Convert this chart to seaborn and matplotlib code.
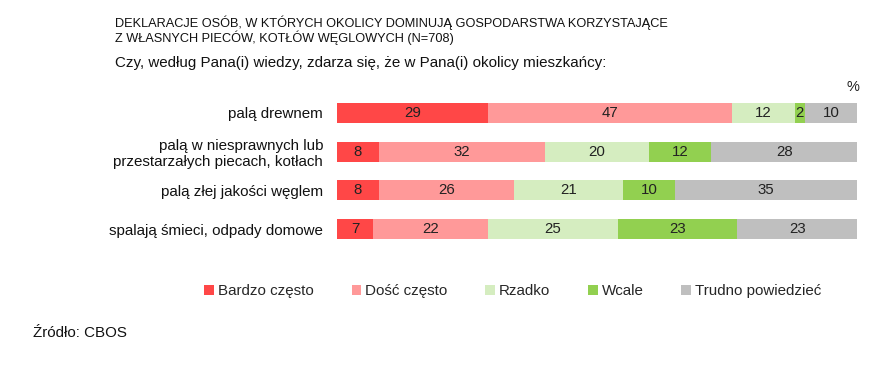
import numpy as np
import pandas as pd
import seaborn as sns
import matplotlib.pyplot as plt
from matplotlib.patches import Patch

sns.set_theme(style="white")
plt.rcParams['font.family'] = ['Liberation Sans', 'DejaVu Sans']

categories = ["palą drewnem",
              "palą w niesprawnych lub\nprzestarzałych piecach, kotłach",
              "palą złej jakości węglem",
              "spalają śmieci, odpady domowe"]
answers = ["Bardzo często", "Dość często", "Rzadko", "Wcale", "Trudno powiedzieć"]
bardzo = [29, 8, 8, 7]
dosc = [47, 32, 26, 22]
rzadko = [12, 20, 21, 25]
wcale = [2, 12, 10, 23]
trudno = [10, 28, 35, 23]
colors = ["#FF4747", "#FF9999", "#D5EDC0", "#92D050", "#BFBFBF"]

values = np.array([bardzo, dosc, rzadko, wcale, trudno])
cum = values.cumsum(axis=0)

fig = plt.figure(figsize=(8.95, 3.70), dpi=100)
ax = fig.add_axes([0.3765, 0.3286, 0.581, 0.4184])

# stacked bars: draw cumulative totals from the widest down
for i in range(len(answers) - 1, -1, -1):
    df = pd.DataFrame({"cat": categories, "val": cum[i]})
    sns.barplot(data=df, x="val", y="cat", orient="h", color=colors[i],
                saturation=1, width=0.52, linewidth=0, ax=ax)

for i in range(len(answers)):
    for j in range(len(categories)):
        v = values[i, j]
        ax.text(cum[i, j] - v / 2, j, str(v), ha="center", va="center",
                fontsize=10.8, color="#222222")

ax.set_xlim(0, 100)
ax.set_ylim(3.5, -0.5)
ax.set_xlabel("")
ax.set_ylabel("")
ax.set_xticks([])
ax.tick_params(axis="y", length=0, pad=10, labelsize=10.9, colors="#111111")
for lbl in ax.get_yticklabels():
    lbl.set_multialignment("right")
sns.despine(ax=ax, left=True, bottom=True)

fig.text(0.946, 0.745, "%", fontsize=10.5, ha="left", va="bottom", color="#222222")

fig.text(0.128, 0.958, "DEKLARACJE OSÓB, W KTÓRYCH OKOLICY DOMINUJĄ GOSPODARSTWA KORZYSTAJĄCE\n"
         "Z WŁASNYCH PIECÓW, KOTŁÓW WĘGLOWYCH (N=708)",
         fontsize=9.2, ha="left", va="top", linespacing=1.05, color="#111111")
fig.text(0.128, 0.83, "Czy, według Pana(i) wiedzy, zdarza się, że w Pana(i) okolicy mieszkańcy:",
         fontsize=10.9, ha="left", va="center", color="#111111")

handles = [Patch(facecolor=c, edgecolor="none") for c in colors]
fig.legend(handles, answers, loc="center", bbox_to_anchor=(0.573, 0.213), ncol=5,
           frameon=False, fontsize=10.9, handlelength=0.65, handleheight=0.65,
           handletextpad=0.25, columnspacing=2.5)

fig.text(0.037, 0.10, "Źródło: CBOS", fontsize=10.9, ha="left", va="center", color="#111111")

fig.savefig("out.png", dpi=100)
